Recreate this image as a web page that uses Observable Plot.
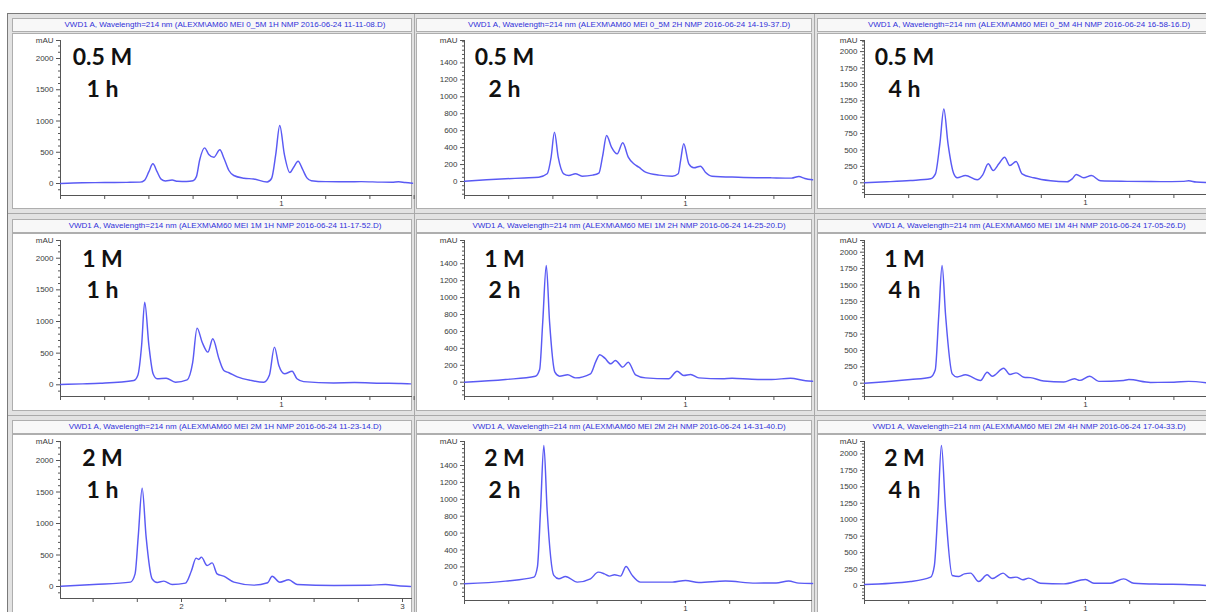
<!DOCTYPE html>
<html><head><meta charset="utf-8">
<script src="https://cdn.jsdelivr.net/npm/d3@7"></script>
<script src="https://cdn.jsdelivr.net/npm/@observablehq/plot@0.6"></script>
<style>
html,body{margin:0;padding:0;background:#fff;}
#root{position:relative;width:1206px;height:612px;overflow:hidden;background:#fff;font-family:"Liberation Sans",Arial,sans-serif;}
.frame{position:absolute;left:7px;top:13px;width:1210px;height:610px;background:#e2e2e2;border-left:1px solid #7a7a7a;border-top:1px solid #7a7a7a;}
.sep{position:absolute;background:#a9a9a9;}
.hdr{position:absolute;box-sizing:border-box;height:14px;background:#f8f8f8;border:1px solid #aeaeae;overflow:hidden;}
.hdr span{position:absolute;top:0;line-height:12px;font-size:8px;color:#3030d8;white-space:nowrap;transform:translateX(-50%);}
.box{position:absolute;box-sizing:border-box;background:#fff;border:1px solid #aeaeae;}
.plot{position:absolute;overflow:visible;}
.plot svg{display:block;overflow:visible;}
</style></head>
<body><div id="root"><div class="frame"></div></div>
<script>
// ---------- data (time in min, absorbance in mAU) ----------
const trace_05M_1h = [[0,0],[0.1,12],[0.2,15],[0.3,18],[0.36,22],[0.38,50],[0.4,190],[0.418,315],[0.437,190],[0.455,70],[0.475,40],[0.505,55],[0.53,35],[0.57,32],[0.6,45],[0.615,110],[0.63,380],[0.652,570],[0.671,465],[0.694,420],[0.721,540],[0.74,400],[0.762,208],[0.784,128],[0.83,85],[0.874,72],[0.935,25],[0.955,80],[0.974,465],[0.992,928],[1.013,465],[1.038,175],[1.055,260],[1.075,357],[1.095,230],[1.115,90],[1.135,45],[1.2,30],[1.3,28],[1.36,30],[1.45,22],[1.5,20],[1.53,28],[1.56,15],[1.593,5]];
const trace_05M_2h = [[0,4],[0.1,20],[0.186,32],[0.27,42],[0.336,51],[0.374,91],[0.392,288],[0.407,583],[0.424,288],[0.449,91],[0.472,71],[0.502,91],[0.532,63],[0.58,75],[0.608,100],[0.625,300],[0.643,544],[0.665,406],[0.691,327],[0.716,457],[0.741,288],[0.766,209],[0.789,169],[0.819,110],[0.88,75],[0.94,63],[0.967,91],[0.978,250],[0.992,446],[1.015,209],[1.038,162],[1.068,181],[1.09,110],[1.12,63],[1.24,51],[1.39,43],[1.48,40],[1.513,59],[1.54,35],[1.575,20]];
const trace_05M_4h = [[0,0],[0.1,15],[0.208,35],[0.299,61],[0.321,137],[0.341,593],[0.359,1125],[0.378,593],[0.404,137],[0.419,76],[0.457,111],[0.51,45],[0.535,120],[0.56,289],[0.582,187],[0.608,289],[0.634,389],[0.658,263],[0.686,324],[0.713,137],[0.766,76],[0.842,30],[0.917,15],[0.94,60],[0.958,126],[0.992,76],[1.027,111],[1.068,30],[1.189,22],[1.34,18],[1.44,22],[1.467,30],[1.5,12],[1.548,5]];
const trace_1M_1h = [[0,5],[0.1,15],[0.18,25],[0.332,68],[0.35,150],[0.367,621],[0.381,1306],[0.4,621],[0.419,174],[0.437,95],[0.478,104],[0.52,41],[0.573,79],[0.598,350],[0.618,895],[0.641,673],[0.667,516],[0.689,727],[0.717,411],[0.739,226],[0.762,190],[0.8,126],[0.86,70],[0.92,40],[0.945,150],[0.968,595],[0.988,305],[1.014,174],[1.048,215],[1.07,95],[1.1,50],[1.236,30],[1.33,35],[1.45,25],[1.54,20],[1.584,15]];
const trace_1M_2h = [[0,0],[0.186,32],[0.321,71],[0.34,150],[0.354,710],[0.37,1380],[0.385,710],[0.409,118],[0.43,71],[0.467,87],[0.502,51],[0.57,99],[0.595,250],[0.612,324],[0.635,284],[0.661,217],[0.683,257],[0.716,178],[0.741,237],[0.774,87],[0.819,51],[0.924,40],[0.962,130],[0.992,79],[1.023,91],[1.06,51],[1.166,40],[1.211,47],[1.3,35],[1.39,32],[1.475,47],[1.543,16],[1.575,12]];
const trace_1M_4h = [[0,0],[0.208,56],[0.299,92],[0.32,200],[0.336,1034],[0.351,1797],[0.367,1034],[0.397,143],[0.419,95],[0.457,128],[0.525,41],[0.555,168],[0.578,107],[0.63,229],[0.658,132],[0.686,158],[0.721,92],[0.751,85],[0.811,33],[0.902,18],[0.95,67],[0.974,43],[1.019,107],[1.06,28],[1.173,41],[1.196,56],[1.294,12],[1.4,15],[1.467,28],[1.548,5]];
const trace_2M_1h = [[1.455,5],[1.603,32],[1.769,69],[1.79,200],[1.804,783],[1.822,1560],[1.84,783],[1.867,122],[1.89,64],[1.92,85],[1.958,32],[2.018,53],[2.045,250],[2.066,450],[2.078,430],[2.09,466],[2.116,333],[2.139,375],[2.161,201],[2.191,164],[2.237,69],[2.327,22],[2.39,60],[2.41,164],[2.445,69],[2.485,106],[2.523,32],[2.689,16],[2.85,20],[2.923,32],[2.98,12],[3.036,0]];
const trace_2M_2h = [[0,0],[0.186,32],[0.314,79],[0.33,200],[0.344,867],[0.359,1636],[0.374,867],[0.404,99],[0.427,59],[0.457,87],[0.51,20],[0.57,59],[0.605,138],[0.633,118],[0.656,91],[0.679,107],[0.706,91],[0.731,205],[0.758,103],[0.796,20],[0.94,20],[1.0,40],[1.06,16],[1.181,32],[1.317,8],[1.41,10],[1.467,32],[1.513,8],[1.575,4]];
const trace_2M_4h = [[0,15],[0.208,61],[0.299,127],[0.316,300],[0.332,1140],[0.348,2128],[0.367,1140],[0.397,152],[0.427,137],[0.452,177],[0.48,188],[0.517,61],[0.555,162],[0.578,106],[0.627,188],[0.658,117],[0.686,127],[0.716,86],[0.743,112],[0.796,35],[0.902,25],[1.0,91],[1.038,35],[1.113,35],[1.173,101],[1.219,35],[1.34,20],[1.45,15],[1.548,0]];

const titles = [
 "VWD1 A, Wavelength=214 nm (ALEXM\\AM60 MEI 0_5M 1H NMP 2016-06-24 11-11-08.D)",
 "VWD1 A, Wavelength=214 nm (ALEXM\\AM60 MEI 0_5M 2H NMP 2016-06-24 14-19-37.D)",
 "VWD1 A, Wavelength=214 nm (ALEXM\\AM60 MEI 0_5M 4H NMP 2016-06-24 16-58-16.D)",
 "VWD1 A, Wavelength=214 nm (ALEXM\\AM60 MEI 1M 1H NMP 2016-06-24 11-17-52.D)",
 "VWD1 A, Wavelength=214 nm (ALEXM\\AM60 MEI 1M 2H NMP 2016-06-24 14-25-20.D)",
 "VWD1 A, Wavelength=214 nm (ALEXM\\AM60 MEI 1M 4H NMP 2016-06-24 17-05-26.D)",
 "VWD1 A, Wavelength=214 nm (ALEXM\\AM60 MEI 2M 1H NMP 2016-06-24 11-23-14.D)",
 "VWD1 A, Wavelength=214 nm (ALEXM\\AM60 MEI 2M 2H NMP 2016-06-24 14-31-40.D)",
 "VWD1 A, Wavelength=214 nm (ALEXM\\AM60 MEI 2M 4H NMP 2016-06-24 17-04-33.D)"
];
const concLabels = ["0.5 M","1 M","2 M"];
const timeLabels = ["1 h","2 h","4 h"];
const yTicks500 = [0,500,1000,1500,2000];
const yTicks200 = [0,200,400,600,800,1000,1200,1400];
const yTicks250 = [0,250,500,750,1000,1250,1500,1750,2000];
const xTicksA = [0,0.2,0.4,0.6,0.8,1,1.2,1.4,1.6];
const xTicksB = [1.6,1.8,2,2.2,2.4,2.6,2.8,3];

// ---------- layout ----------
const PX_PER_MIN = 221;
const cols = [{boxL:12,boxR:412,axisX:60},{boxL:416,boxR:812,axisX:464},{boxL:817,boxR:1206,axisX:864}];
const rows = [{hdrTop:18,boxTop:33,boxBot:209,mauY:40,d1:24,d2:56},{hdrTop:219,boxTop:233,boxBot:411,mauY:240,d1:26,d2:57},{hdrTop:420,boxTop:434,boxBot:612,mauY:441,d1:24,d2:56}];
const traces = [trace_05M_1h,trace_05M_2h,trace_05M_4h,trace_1M_1h,trace_1M_2h,trace_1M_4h,trace_2M_1h,trace_2M_2h,trace_2M_4h];
const cfg = [
 {zeroY:183,axisY:195,k:0.0625,x0:0,yMajor:yTicks500,step:100,xT:xTicksA},
 {zeroY:181,axisY:195,k:0.0847,x0:0,yMajor:yTicks200,step:50,xT:xTicksA},
 {zeroY:182.3,axisY:194,k:0.0656,x0:0,yMajor:yTicks250,step:50,xT:xTicksA},
 {zeroY:384.3,axisY:396,k:0.0633,x0:0,yMajor:yTicks500,step:100,xT:xTicksA},
 {zeroY:381.7,axisY:396,k:0.0846,x0:0,yMajor:yTicks200,step:50,xT:xTicksA},
 {zeroY:382.7,axisY:396,k:0.0655,x0:0,yMajor:yTicks250,step:50,xT:xTicksA},
 {zeroY:586,axisY:598,k:0.063,x0:1.4525,yMajor:yTicks500,step:100,xT:xTicksB},
 {zeroY:583.3,axisY:600,k:0.0845,x0:0,yMajor:yTicks200,step:50,xT:xTicksA},
 {zeroY:585,axisY:600,k:0.0658,x0:0,yMajor:yTicks250,step:50,xT:xTicksA}
];

const root = document.getElementById("root");
function addDiv(cls, css){const d=document.createElement("div");d.className=cls;Object.assign(d.style,css);root.appendChild(d);return d;}
addDiv("sep",{left:"8px",top:"213px",width:"1200px",height:"1px"});
addDiv("sep",{left:"8px",top:"415px",width:"1200px",height:"1px"});
addDiv("sep",{left:"414px",top:"14px",width:"1px",height:"600px"});
addDiv("sep",{left:"814px",top:"14px",width:"1px",height:"600px"});

const axisColor = "#555";
for (let i=0;i<9;i++){
  const r=Math.floor(i/3), c=i%3, col=cols[c], row=rows[r], p=cfg[i];
  const boxW = (c===2 ? 1215 : col.boxR) - col.boxL;
  const hdr = addDiv("hdr",{left:col.boxL+"px",top:row.hdrTop+"px",width:boxW+"px"});
  const sp=document.createElement("span"); sp.textContent=titles[i]; sp.style.left=(col.axisX+164-col.boxL)+"px"; hdr.appendChild(sp);
  addDiv("box",{left:col.boxL+"px",top:row.boxTop+"px",width:boxW+"px",height:(row.boxBot-row.boxTop+(r===2?6:0))+"px"});

  const width = col.boxR-col.boxL, height=row.boxBot-row.boxTop;
  const ml = col.axisX-col.boxL, mt=row.mauY-row.boxTop, mb=row.boxBot-p.axisY;
  const yMin=(p.zeroY-p.axisY)/p.k, yMax=(p.zeroY-row.mauY)/p.k;
  const xMax=p.x0+(col.boxR-col.axisX)/PX_PER_MIN;
  const minors=d3.range(Math.ceil(yMin/p.step)*p.step, yMax, p.step).filter(v=>!p.yMajor.includes(v));
  const chart = Plot.plot({
    width, height, marginLeft:ml, marginRight:0, marginTop:mt, marginBottom:mb,
    x:{domain:[p.x0,xMax], axis:null},
    y:{domain:[yMin,yMax], axis:null},
    style:{fontFamily:"'Liberation Sans', Arial, sans-serif", fontSize:"8px", background:"transparent", color:"#3a3a3a", overflow:"visible"},
    marks:[
      Plot.axisY(minors,{tickSize:2, tickFormat:()=>"", stroke:axisColor, label:null}),
      Plot.axisY([...p.yMajor, yMax],{tickSize:4, tickPadding:3, tickFormat:d=>d===yMax?"mAU":String(d), stroke:axisColor, fill:"#3a3a3a", label:null}),
      Plot.axisX(p.xT,{tickSize:4, tickPadding:1, tickFormat:d=>(Number.isInteger(d)&&d!==0)?String(d):"", stroke:axisColor, fill:"#3a3a3a", label:null}),
      Plot.ruleX([p.x0],{stroke:axisColor}),
      Plot.ruleY([yMin],{stroke:axisColor}),
      Plot.line(traces[i],{x:d=>d[0], y:d=>d[1], stroke:"#5a5af4", strokeWidth:1.45, curve:"monotone-x"}),
      Plot.text([concLabels[r]],{text:d=>d, frameAnchor:"top-left", dx:(c===0?42:40), dy:row.d1, lineAnchor:"bottom", textAnchor:"middle", fontSize:23, fontWeight:"bold", fontFamily:"Lato, 'Open Sans', sans-serif", fill:"#111"}),
      Plot.text([timeLabels[c]],{text:d=>d, frameAnchor:"top-left", dx:(c===0?42:40), dy:row.d2, lineAnchor:"bottom", textAnchor:"middle", fontSize:23, fontWeight:"bold", fontFamily:"Lato, 'Open Sans', sans-serif", fill:"#111"})
    ]
  });
  const wrap = addDiv("plot",{left:col.boxL+"px",top:row.boxTop+"px",width:width+"px",height:height+"px"});
  wrap.appendChild(chart);
}
</script>
</body></html>
